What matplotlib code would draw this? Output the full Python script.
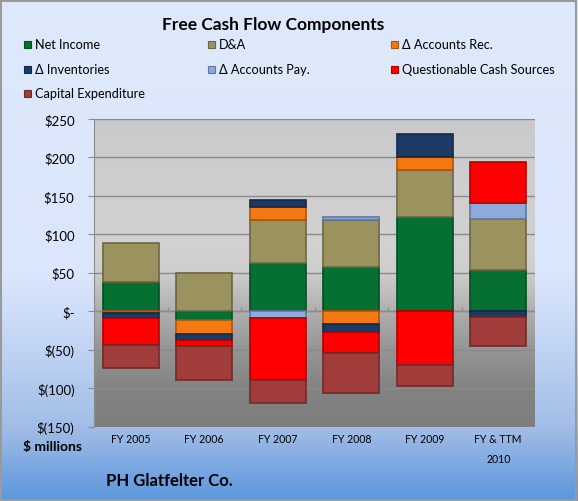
import numpy as np
import matplotlib
matplotlib.use("Agg")
import matplotlib.pyplot as plt
from matplotlib.colors import LinearSegmentedColormap, to_rgb
from matplotlib.patches import Rectangle

plt.rcParams['font.family'] = ['Lato', 'DejaVu Sans']

# ---------------- data ----------------
categories = ["FY 2005", "FY 2006", "FY 2007", "FY 2008", "FY 2009", "FY & TTM\n2010"]
series_names = ["Net Income", "D&A", "\u0394 Accounts Rec.", "\u0394 Inventories",
                "\u0394 Accounts Pay.", "Questionable Cash Sources", "Capital Expenditure"]
net_income = [38, -11, 63, 58, 122, 54]
d_and_a = [51, 50, 56, 61, 62, 66]
accounts_rec = [-3, -19, 17, -17, 16, 0]
inventories = [-6, -8, 8, -10, 30, -8]
accounts_pay = [0, 0, -9, 3, 0, 21]
questionable = [-35, -7, -80, -27, -70, 53]
capex = [-30, -45, -30, -53, -27, -37]
series_values = [net_income, d_and_a, accounts_rec, inventories, accounts_pay, questionable, capex]
series_colors = ["#067033", "#9b935f", "#f57812", "#1b3b66", "#8eaadb", "#ff0000", "#a03c3a"]
y_ticks = [-150, -100, -50, 0, 50, 100, 150, 200, 250]
y_tick_labels = ["$(150)", "$(100)", "$(50)", "$-", "$50", "$100", "$150", "$200", "$250"]

W, H = 578, 502
fig = plt.figure(figsize=(W / 100, H / 100), dpi=100)


def fx(px):
    return px / W


def fy(py):
    return 1 - py / H


def darker(c, f=0.6):
    r, g, b = to_rgb(c)
    return (r * f, g * f, b * f)


# figure background gradient
bg = fig.add_axes([0, 0, 1, 1], zorder=-10)
bg_cmap = LinearSegmentedColormap.from_list(
    "bg", [(0, "#dfe9fb"), (0.55, "#dae6fb"), (0.66, "#c8d9f7"), (0.86, "#a0bce6"), (1, "#5b96dd")])
bg.imshow(np.linspace(0, 1, 256).reshape(-1, 1), aspect="auto", cmap=bg_cmap, extent=[0, 1, 0, 1])
bg.set_xlim(0, 1)
bg.set_ylim(0, 1)
bg.axis("off")
bg.add_patch(Rectangle((0.002, 0.002), 0.994, 0.994, fill=False, edgecolor="#9a9a9a", lw=1.5,
                       transform=bg.transAxes))

# plot area
ax = fig.add_axes([fx(94), fy(427.5), fx(441), 307.5 / H])
plot_cmap = LinearSegmentedColormap.from_list(
    "pl", [(0, "#cacaca"), (0.42, "#d2d2d2"), (0.5, "#cdcdcd"), (0.62, "#b0b0b0"),
           (0.75, "#959595"), (0.88, "#828282"), (1, "#7f7f7f")])
n = len(categories)
ax.imshow(np.linspace(0, 1, 256).reshape(-1, 1), aspect="auto", cmap=plot_cmap,
          extent=[-0.5, n - 0.5, y_ticks[0], y_ticks[-1]], zorder=0)

x = np.arange(n)
pos_bottom = np.zeros(n)
neg_bottom = np.zeros(n)
for vals, col in zip(series_values, series_colors):
    v = np.array(vals, dtype=float)
    bottom = np.where(v >= 0, pos_bottom, neg_bottom)
    m = v != 0
    ax.bar(x[m], v[m], 0.76, bottom=bottom[m], color=col, edgecolor=darker(col, 0.7),
           linewidth=1.2, zorder=3)
    pos_bottom += np.where(v > 0, v, 0)
    neg_bottom += np.where(v < 0, v, 0)

ax.set_xlim(-0.5, n - 0.5)
ax.set_ylim(y_ticks[0], y_ticks[-1])
ax.set_axisbelow(True)
ax.yaxis.grid(True, color="#8a8a8a", lw=1)
ax.axhline(0, color="#8c8c8c", lw=1, zorder=2.5)
ax.vlines(np.arange(-0.5, n), 0, 5, color="#8c8c8c", lw=1, zorder=2.5)

ax.set_yticks(y_ticks, y_tick_labels)
ax.set_xticks(x, categories)
ax.tick_params(axis="y", length=4, color="#8c8c8c", labelsize=9.5, pad=10)
ax.tick_params(axis="x", length=0, labelsize=7.6, pad=5)
for lbl in ax.get_xticklabels():
    lbl.set_linespacing(1.95)
    lbl.set_verticalalignment("top")
for s in ["top", "right", "bottom"]:
    ax.spines[s].set_visible(False)
ax.spines["left"].set_color("#8c8c8c")

# texts
fig.text(fx(273), fy(25), "Free Cash Flow Components", ha="center", va="center",
         weight="bold", fontsize=12.5)
fig.text(fx(82), fy(447), "$ millions", ha="right", va="center", weight="bold", fontsize=10)
fig.text(fx(106), fy(481), "PH Glatfelter Co.", ha="left", va="center", weight="bold", fontsize=12)

# legend (row-major, 3 columns)
marker_x = [24, 208, 391]
text_x = [35, 219, 402]
row_y = [45, 70, 94]
for i, (name, col) in enumerate(zip(series_names, series_colors)):
    r, c = divmod(i, 3)
    fig.patches.append(Rectangle((fx(marker_x[c]), fy(row_y[r] + 3.5)), fx(7), 7 / H,
                                 facecolor=col, edgecolor=darker(col, 0.7), lw=0.8,
                                 transform=fig.transFigure, figure=fig))
    fig.text(fx(text_x[c]), fy(row_y[r]), name, ha="left", va="center", fontsize=9.2)

fig.savefig("out.png", dpi=100)
